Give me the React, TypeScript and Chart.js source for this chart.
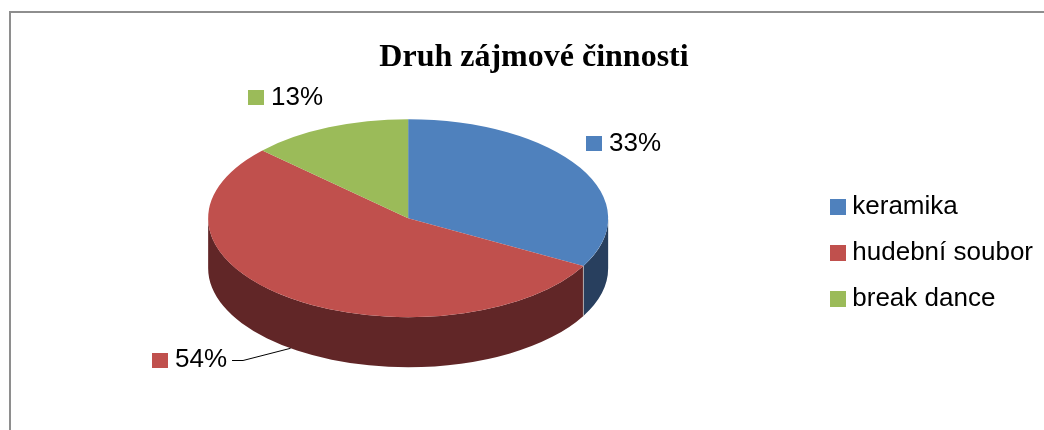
import { useEffect, useRef } from 'react';
import { Chart, registerables } from 'chart.js';

Chart.register(...registerables);

const TITLE = 'Druh zájmové činnosti';
const CATEGORIES = ['keramika', 'hudební soubor', 'break dance'];
const SHARES = [33, 54, 13];
const TOP_COLORS = ['#4F81BD', '#C0504D', '#9BBB59'];
const SIDE_COLORS = ['#283F5E', '#612627', '#4D5E2C'];

const VIEW = { tilt: 0.495, depth: 50, lift: 10 };
const LABEL_OFFSETS = [
  [43, -24],
  [-101, 12],
  [-43, -30],
];
const LABEL_LEADER = [false, true, false];
const SANS = "'Liberation Sans', Arial, sans-serif";
const SERIF = "'Liberation Serif', 'Times New Roman', serif";
const FONT_SIZE = 26;
const CANVAS_W = 1068;
const CANVAS_H = 430;

function swatch(color: string, w: number, h: number) {
  const c = document.createElement('canvas');
  c.width = w;
  c.height = h;
  const x = c.getContext('2d')!;
  x.fillStyle = color;
  x.fillRect(0, 0, w, h);
  return c;
}

function geometry(chart: any) {
  const meta = chart.getDatasetMeta(0);
  const arcs = meta.data as any[];
  if (!arcs.length) return null;
  const p = arcs[0].getProps(['x', 'y', 'outerRadius'], true);
  const R = p.outerRadius;
  const ry = R * VIEW.tilt;
  const cyT = p.y - VIEW.depth / 2 - VIEW.lift;
  return { arcs, cx: p.x, cy: p.y, R, ry, cyT };
}

const pie3d = {
  id: 'pie3d',
  beforeDatasetsDraw(chart: any) {
    const g = geometry(chart);
    const ctx = chart.ctx as CanvasRenderingContext2D;
    ctx.save();
    if (!g) return;
    const { arcs, cx, cy, R, ry, cyT } = g;
    ctx.save();
    arcs.forEach((arc, i) => {
      const { startAngle, endAngle } = arc.getProps(['startAngle', 'endAngle'], true);
      for (const base of [-2 * Math.PI, 0, 2 * Math.PI]) {
        const a0 = Math.max(startAngle, base);
        const a1 = Math.min(endAngle, base + Math.PI);
        if (a1 <= a0) continue;
        ctx.beginPath();
        ctx.ellipse(cx, cyT, R, ry, 0, a0, a1);
        ctx.ellipse(cx, cyT + VIEW.depth, R, ry, 0, a1, a0, true);
        ctx.closePath();
        ctx.fillStyle = SIDE_COLORS[i];
        ctx.fill();
      }
    });
    // seams on the visible side wall
    arcs.forEach((arc) => {
      const { startAngle } = arc.getProps(['startAngle'], true);
      let a = startAngle % (2 * Math.PI);
      if (a < 0) a += 2 * Math.PI;
      if (a > 0.001 && a < Math.PI - 0.001) {
        const x = cx + R * Math.cos(a);
        const y = cyT + ry * Math.sin(a);
        ctx.beginPath();
        ctx.moveTo(x, y);
        ctx.lineTo(x, y + VIEW.depth);
        ctx.strokeStyle = 'rgba(190,190,190,0.8)';
        ctx.lineWidth = 1;
        ctx.stroke();
      }
    });
    ctx.restore();
    ctx.translate(0, cyT);
    ctx.scale(1, VIEW.tilt);
    ctx.translate(0, -cy);
  },
  afterDatasetsDraw(chart: any) {
    const ctx = chart.ctx as CanvasRenderingContext2D;
    ctx.restore();
    const g = geometry(chart);
    if (!g) return;
    const { arcs, cx, R, ry, cyT } = g;
    const total = SHARES.reduce((a, b) => a + b, 0);
    ctx.save();
    ctx.font = `${FONT_SIZE}px ${SANS}`;
    ctx.textBaseline = 'middle';
    ctx.textAlign = 'left';
    arcs.forEach((arc, i) => {
      const { startAngle, endAngle } = arc.getProps(['startAngle', 'endAngle'], true);
      const mid = (startAngle + endAngle) / 2;
      const px = cx + R * Math.cos(mid);
      let py = cyT + ry * Math.sin(mid);
      if (Math.sin(mid) > 0) py += VIEW.depth;
      const lx = px + LABEL_OFFSETS[i][0];
      const ly = py + LABEL_OFFSETS[i][1];
      const text = Math.round((SHARES[i] / total) * 100) + '%';
      const tw = ctx.measureText(text).width;
      const w = 16 + 7 + tw;
      const left = Math.round(lx - w / 2);
      ctx.fillStyle = TOP_COLORS[i];
      ctx.fillRect(left, Math.round(ly - 7.5), 16, 15);
      ctx.fillStyle = '#000';
      ctx.fillText(text, left + 23, ly);
      if (LABEL_LEADER[i]) {
        ctx.beginPath();
        ctx.moveTo(left + w + 5, Math.round(ly) + 0.5);
        ctx.lineTo(left + w + 16, Math.round(ly) + 0.5);
        ctx.lineTo(px, py);
        ctx.strokeStyle = '#000';
        ctx.lineWidth = 1;
        ctx.stroke();
      }
    });
    ctx.restore();
  },
};

export default function App() {
  const ref = useRef<HTMLCanvasElement>(null);
  useEffect(() => {
    const canvas = ref.current!;
    const swatches = TOP_COLORS.map((c) => swatch(c, 16, 16));
    const chart = new Chart(canvas, {
      type: 'pie',
      data: {
        labels: CATEGORIES,
        datasets: [
          {
            data: SHARES,
            backgroundColor: TOP_COLORS,
            borderWidth: 0,
            radius: 200,
            clip: false,
          } as any,
        ],
      },
      options: {
        animation: false,
        responsive: false,
        maintainAspectRatio: false,
        events: [],
        layout: { padding: { left: 0, right: 0, top: 0, bottom: 10 } },
        plugins: {
          title: {
            display: true,
            text: TITLE,
            color: '#000',
            font: { family: SERIF, size: 32, weight: 'bold', lineHeight: 1.2 },
            padding: { top: 39, bottom: 9 },
          },
          subtitle: {
            display: true,
            position: 'right',
            text: '',
            font: { size: 25, lineHeight: 1 },
            padding: 0,
          },
          legend: {
            position: 'right',
            fullSize: false,
            labels: {
              usePointStyle: true,
              pointStyleWidth: 3,
              boxHeight: 16,
              padding: 20,
              color: '#000',
              font: { family: SANS, size: FONT_SIZE },
              generateLabels: () =>
                CATEGORIES.map((c, i) => ({
                  text: c,
                  fillStyle: TOP_COLORS[i],
                  strokeStyle: TOP_COLORS[i],
                  lineWidth: 0,
                  pointStyle: swatches[i],
                  fontColor: '#000',
                  hidden: false,
                  index: i,
                })),
            },
          },
          tooltip: { enabled: false },
        },
      } as any,
      plugins: [pie3d as any],
    });
    return () => chart.destroy();
  }, []);
  return (
    <div
      style={{
        position: 'fixed',
        left: 0,
        top: 0,
        width: 1044,
        height: 430,
        overflow: 'hidden',
        background: '#fff',
      }}
    >
      <div
        style={{
          position: 'absolute',
          left: 9,
          top: 11,
          width: 1100,
          height: 500,
          borderLeft: '2px solid #8e8e8e',
          borderTop: '2px solid #8e8e8e',
        }}
      />
      <canvas
        ref={ref}
        width={CANVAS_W}
        height={CANVAS_H}
        style={{ position: 'absolute', left: 0, top: 0, width: CANVAS_W, height: CANVAS_H }}
      />
    </div>
  );
}
